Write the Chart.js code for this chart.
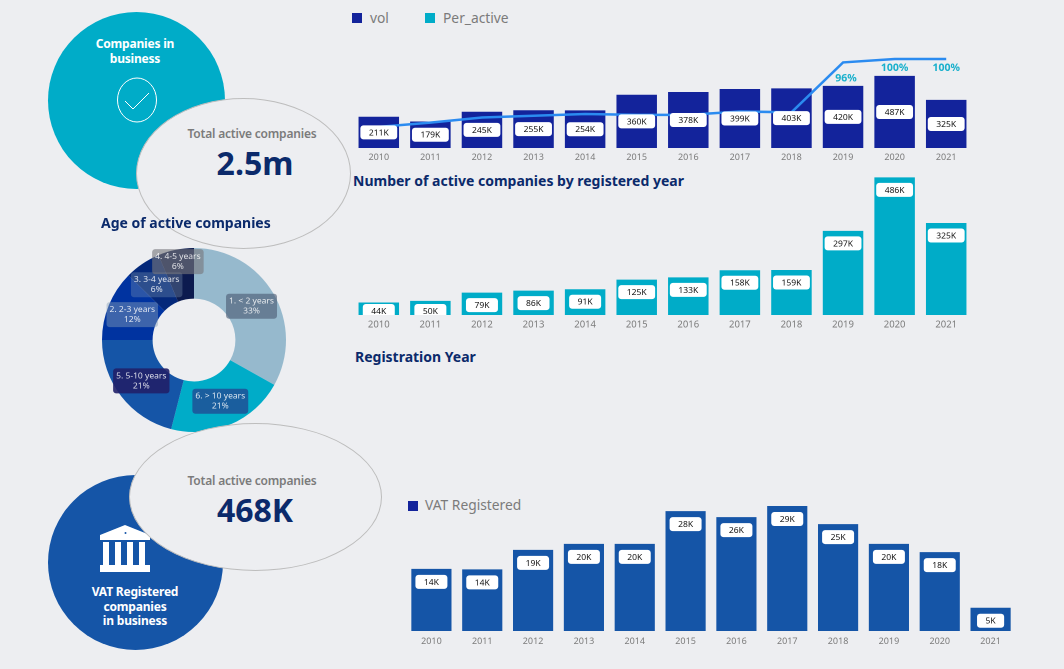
<!DOCTYPE html>
<html><head><meta charset="utf-8">
<script src="https://cdn.jsdelivr.net/npm/chart.js@4"></script>
<style>
html,body{margin:0;padding:0;width:1064px;height:669px;background:#edeef1;overflow:hidden}
body{position:relative;font-family:"Noto Sans",sans-serif}
.a{position:absolute}
canvas{position:absolute}
.ttl{position:absolute;font-family:"Noto Sans",sans-serif;font-weight:700;color:#0b2a6b;font-size:14px;line-height:18px;white-space:nowrap}
.c{position:absolute;text-align:center;white-space:nowrap;transform:translateX(-50%)}
.w{color:#fff;font-family:"Noto Sans",sans-serif;font-weight:700;font-size:12px;letter-spacing:-.2px;line-height:14.5px}
.g{color:#7b7b7b;font-family:"Noto Sans",sans-serif;font-weight:600;font-size:12px;letter-spacing:-.2px;line-height:16px}
.big{color:#0b2a6b;font-family:"Noto Sans",sans-serif;font-weight:700;font-size:32px;line-height:40px}
.lg{position:absolute;color:#7b7b7b;font-size:13.8px;line-height:18px;white-space:nowrap}
.bx{position:absolute;width:10px;height:10px}
.disc{position:absolute;border-radius:50%}
.ell{position:absolute;border-radius:50%;background:#edeef1;border:1.5px solid #bdbdbd;box-sizing:border-box}
</style></head><body>
<div class="disc" style="left:48px;top:12px;width:177px;height:177px;background:#00acc8"></div>
<div class="disc" style="left:48px;top:475px;width:175px;height:175px;background:#1555a7"></div>
<svg class="a" style="left:110px;top:70px" width="54" height="60" viewBox="0 0 54 60"><ellipse cx="27" cy="30" rx="19.5" ry="22" fill="none" stroke="#fff" stroke-width="1"/><path d="M15 31 L23 39 L39 23" fill="none" stroke="#fff" stroke-width="1"/></svg>
<svg class="a" style="left:90px;top:515px" width="70" height="65" viewBox="0 0 70 65"><path d="M10 20 L35 10 L60 20 L60 25 L10 25Z M13 27H19V50H13Z M25 27H31V50H25Z M37 27H43V50H37Z M49 27H55V50H49Z M10 50H60V57H10Z" fill="#fff"/><circle cx="35.5" cy="18" r="1" fill="#1555a7"/></svg>

<canvas id="donut" style="left:93.5px;top:240px" width="200" height="200"></canvas>
<div class="ell" style="left:136px;top:98px;width:215px;height:151px"></div>
<div class="ell" style="left:129px;top:423px;width:253px;height:148px"></div>

<div class="c w" style="left:135px;top:37px">Companies in<br>business</div>
<div class="c g" style="left:252px;top:126px">Total active companies</div>
<div class="c big" style="left:255px;top:143px">2.5m</div>
<div class="c g" style="left:252px;top:473px">Total active companies</div>
<div class="c big" style="left:255px;top:490px">468K</div>
<div class="c w" style="left:135px;top:585px">VAT Registered<br>companies<br>in business</div>
<div class="ttl" style="left:101px;top:214px">Age of active companies</div>
<div class="ttl" style="left:353px;top:172px">Number of active companies by registered year</div>
<div class="ttl" style="left:355px;top:348px">Registration Year</div>

<div class="bx" style="left:352px;top:13px;background:#13239b"></div><div class="lg" style="left:370px;top:9px">vol</div>
<div class="bx" style="left:425px;top:13px;background:#00acc8"></div><div class="lg" style="left:443px;top:9px">Per_active</div>
<div class="bx" style="left:408px;top:501px;background:#13239b"></div><div class="lg" style="left:425px;top:496px">VAT Registered</div>

<canvas id="top" style="left:352.7px;top:0" width="619" height="166"></canvas>
<canvas id="mid" style="left:352.7px;top:170px" width="619" height="162"></canvas>
<canvas id="bot" style="left:406.2px;top:490px" width="610" height="158"></canvas>

<script>
const years = ["2010","2011","2012","2013","2014","2015","2016","2017","2018","2019","2020","2021"];
const vol = [211,179,245,255,254,360,378,399,403,420,487,325];
const perActive = [21,26,32,34,36,35,35,39,38,96,100,100];
const activeByYear = [44,50,79,86,91,125,133,158,159,297,486,325];
const vatRegistered = [14.4,14.3,18.8,20.2,20.2,27.8,26.4,29,24.8,20.2,18.3,5.4];
const ageLabels = ["1. < 2 years","6. > 10 years","5. 5-10 years","2. 2-3 years","3. 3-4 years","4. 4-5 years"];
const ageShares = [33.1,20.9,21,12.4,6.3,6.3];
const ageColours = ["#96b9cd","#00acc8","#1555a7","#0033a0","#04287a","#0c1b4f"];
const agePills = ["rgba(75,90,115,.62)","rgba(30,80,150,.85)","rgba(32,32,105,.9)","rgba(135,160,185,.45)","rgba(135,160,185,.32)","rgba(120,120,125,.62)"];

const FONT='"Noto Sans",sans-serif';
Chart.defaults.font.family=FONT;
Chart.defaults.animation=false;
Chart.defaults.responsive=false;
Chart.defaults.devicePixelRatio=2;

function pill(ctx,cx,cy,w,h,fill){
  ctx.beginPath();ctx.roundRect(cx-w/2,cy-h/2,w,h,3);ctx.fillStyle=fill;ctx.fill();
}
const valuePills={id:'valuePills',afterDatasetsDraw(chart,_,o){
  const {ctx,chartArea:ca}=chart;
  const meta=chart.getDatasetMeta(0);
  ctx.save();
  ctx.beginPath();ctx.rect(ca.left,ca.top,ca.width,ca.height);ctx.clip();
  ctx.font='8.5px '+FONT;ctx.textAlign='center';ctx.textBaseline='middle';
  meta.data.forEach((b,i)=>{
    const v=Math.round(chart.data.datasets[0].data[i]);
    const t=v+'K';
    const w=ctx.measureText(t).width+o.pad;
    let y;
    if(o.mode==='center') y=(b.y+b.base)/2;
    else y=Math.min(b.y+o.inset,b.base-o.floor);
    pill(ctx,b.x,y,w,14,'#fff');
    ctx.fillStyle='#111';ctx.fillText(t,b.x,y+.5);
  });
  ctx.restore();
}};
const pctLabels={id:'pctLabels',afterDatasetsDraw(chart){
  const m=chart.getDatasetMeta(1);if(!m)return;
  const ctx=chart.ctx;ctx.save();
  ctx.font='bold 10.5px '+FONT;ctx.fillStyle='#19b0cc';ctx.textAlign='center';ctx.textBaseline='middle';
  m.data.forEach((p,i)=>{
    const v=perActive[i];if(v<90)return;
    ctx.fillText(v+'%',p.x+(v<100?3:0),p.y+(v<100?16:9));
  });ctx.restore();
}};
function xAxis(size,pad,h){return {grid:{display:false,drawTicks:false,tickLength:0},border:{display:false},
  ticks:{color:'#7b7b7b',font:{size},padding:pad,maxRotation:0,autoSkip:false},afterFit(s){s.height=h}};}
const hiddenY=(min,max)=>({display:false,min,max});

new Chart(document.getElementById('top'),{
  data:{labels:years,datasets:[
    {type:'bar',label:'vol',data:vol,backgroundColor:'#13239b',categoryPercentage:1,barPercentage:.785,order:2,yAxisID:'y'},
    {type:'line',label:'Per_active',data:perActive,borderColor:'#2b8bf0',borderWidth:2.5,pointRadius:0,tension:0,order:1,yAxisID:'y1'}
  ]},
  options:{layout:{padding:0},plugins:{legend:{display:false},tooltip:{enabled:false},valuePills:{mode:'center',pad:17}},
    scales:{x:xAxis(9,4,18),y:hiddenY(0,1000),y1:hiddenY(-3.5,168.6)}},
  plugins:[valuePills,pctLabels]
});
new Chart(document.getElementById('mid'),{
  type:'bar',
  data:{labels:years,datasets:[{label:'Active',data:activeByYear,backgroundColor:'#00acc8',categoryPercentage:1,barPercentage:.785}]},
  options:{layout:{padding:0},plugins:{legend:{display:false},tooltip:{enabled:false},valuePills:{mode:'top',inset:12.5,floor:4,pad:17}},
    scales:{x:xAxis(9.5,4,17),y:hiddenY(0,512)}},
  plugins:[valuePills]
});
new Chart(document.getElementById('bot'),{
  type:'bar',
  data:{labels:years,datasets:[{label:'VAT Registered',data:vatRegistered,backgroundColor:'#1555a7',categoryPercentage:1,barPercentage:.79}]},
  options:{layout:{padding:0},plugins:{legend:{display:false},tooltip:{enabled:false},valuePills:{mode:'top',inset:13,floor:4,pad:17}},
    scales:{x:xAxis(9,5,17),y:hiddenY(0,32.7)}},
  plugins:[valuePills]
});
const donutLabels={id:'donutLabels',afterDatasetsDraw(chart){
  const {ctx}=chart;const m=chart.getDatasetMeta(0);
  ctx.save();ctx.font='8.5px '+FONT;ctx.textAlign='center';ctx.textBaseline='middle';
  m.data.forEach((a,i)=>{
    const c=a.tooltipPosition();
    const y=c.y+(i===5?-13:0);
    const x=c.x+(i===5?-3:0);
    const l1=ageLabels[i],l2=Math.round(ageShares[i])+'%';
    const w=ctx.measureText(l1).width+6;
    pill(ctx,x,y,w,25,agePills[i]);
    ctx.fillStyle='rgba(255,255,255,.85)';ctx.fillText(l1,x,y-5);ctx.fillText(l2,x,y+5);
  });ctx.restore();
}};
new Chart(document.getElementById('donut'),{
  type:'doughnut',
  data:{labels:ageLabels,datasets:[{data:ageShares,backgroundColor:ageColours,borderWidth:0}]},
  options:{cutout:'45%',layout:{padding:8},plugins:{legend:{display:false},tooltip:{enabled:false}}},
  plugins:[donutLabels]
});
</script>
</body></html>
